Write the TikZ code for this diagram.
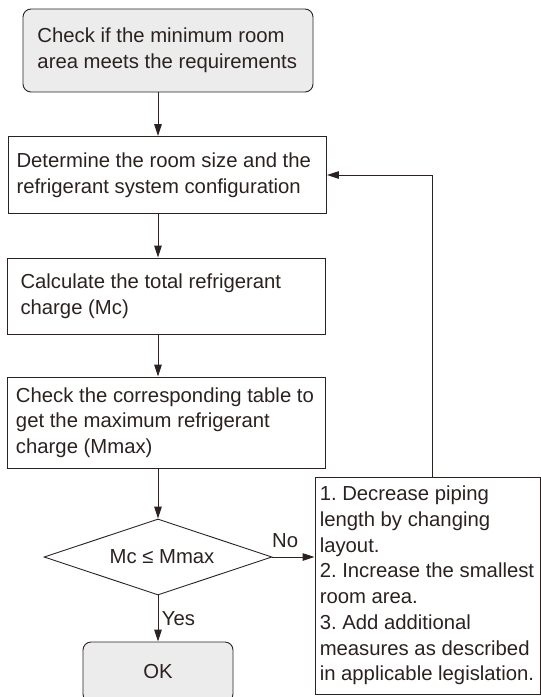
\documentclass[tikz,border=0pt]{standalone}
\usepackage{fontspec}
\setmainfont{Liberation Sans}
\usetikzlibrary{shapes.geometric, arrows.meta, positioning, calc}
\definecolor{flow_dark}{HTML}{2B2220}
\colorlet{linec}{flow_dark}
\definecolor{flow_gray}{HTML}{EBECEB}
\colorlet{boxgray}{flow_gray}
\tikzset{
  endbox/.style={draw=linec,fill=boxgray,rounded corners=8pt,line width=0.9pt,text=linec,align=flush left},
  stepbox/.style={draw=linec,line width=0.9pt,text=linec,align=flush left,minimum width=318pt},
  decision/.style={diamond,draw=linec,line width=0.9pt,text=linec,shape aspect=3,inner sep=0pt,minimum width=228pt,minimum height=76pt},
  flow/.style={line width=1pt,draw=linec,-{Triangle[length=12pt,width=7.5pt]}},
  tag/.style={text=linec},
}

\begin{document}
\begin{tikzpicture}[x=1pt,y=-1pt,font=\fontsize{20.3}{25.7}\selectfont\frenchspacing]
    \useasboundingbox (0,0) rectangle (541,697);
    \clip (0,0) rectangle (541,697);
    \node[endbox,minimum width=290pt,minimum height=83pt,text width=261pt] (check) at (168,50.5) {Check if the minimum room\\area meets the requirements};
    \node[stepbox,minimum height=77pt,text width=302pt] (size) at (167.5,175) {Determine the room size and the\\refrigerant system configuration};
    \node[stepbox,minimum height=76pt,text width=292pt] (calc) at (166.5,296) {Calculate the total refrigerant\\charge (Mc)};
    \node[stepbox,minimum height=91pt,text width=300pt] (table) at (166,422.5) {Check the corresponding table to\\get the maximum refrigerant\\charge (Mmax)};
    \node[decision] (dec) at (158,557) {\hspace{8pt}Mc ≤ Mmax};
    \node[endbox,align=center,minimum width=150pt,minimum height=60pt] (ok) at (158,672) {OK};
    \node[stepbox,minimum width=225.5pt,minimum height=217pt,text width=216pt] (fix) at (427.75,585.5) {1. Decrease piping\\length by changing\\layout.\\2. Increase the smallest\\room area.\\3. Add additional\\measures as described\\in applicable legislation.};
    \coordinate (loop) at (432,0);
    \draw[flow] (check.south -| dec) -- (size.north -| dec);
    \draw[flow] (size.south -| dec) -- (calc.north -| dec);
    \draw[flow] (calc.south -| dec) -- (table.north -| dec);
    \draw[flow] (table.south -| dec) -- (dec.north);
    \draw[flow] (dec.south) -- node[tag,right] {Yes} (ok.north);
    \draw[flow] (dec.east) -- node[tag,above=5pt,pos=0.3] {No} (dec.east -| fix.west);
    \draw[flow] (fix.north -| loop) |- (size.east);
\end{tikzpicture}
\end{document}
